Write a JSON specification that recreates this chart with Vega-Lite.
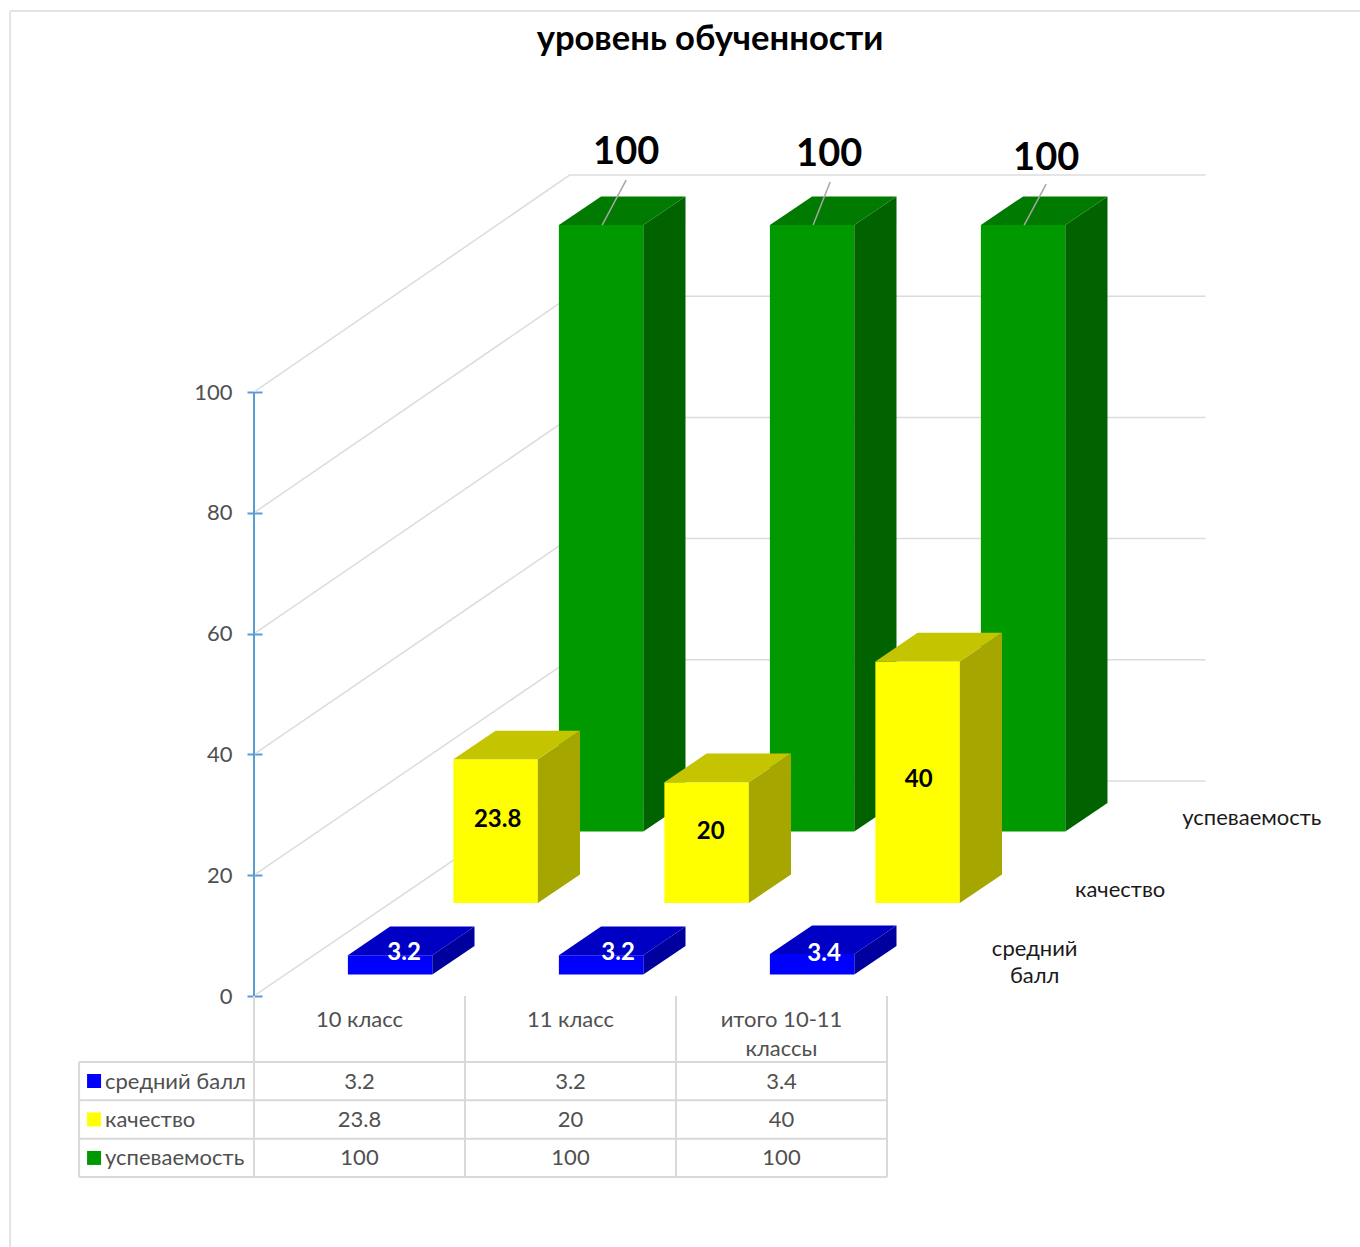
{
"$schema":"https://vega.github.io/schema/vega-lite/v6.json",
"width":1360,"height":1247,"padding":0,"autosize":{"type":"none"},
"background":"white",
"config":{"view":{"stroke":null},"font":"Lato"},
"title":{"text":"уровень обученности","font":"Lato","fontSize":34.6,"fontWeight":"bold","color":"#000000","anchor":"middle","dx":30,"dy":75,"baseline":"middle","offset":0},
"datasets":{
"bars":[
{"cat":"10 класс","series":"средний балл","value":3.2},
{"cat":"11 класс","series":"средний балл","value":3.2},
{"cat":"итого 10-11 классы","series":"средний балл","value":3.4},
{"cat":"10 класс","series":"качество","value":23.8},
{"cat":"11 класс","series":"качество","value":20},
{"cat":"итого 10-11 классы","series":"качество","value":40},
{"cat":"10 класс","series":"успеваемость","value":100},
{"cat":"11 класс","series":"успеваемость","value":100},
{"cat":"итого 10-11 классы","series":"успеваемость","value":100}
],
"levels":[{"level":0},{"level":20},{"level":40},{"level":60},{"level":80},{"level":100}],
"rows":[{"row":0},{"row":1},{"row":2},{"row":3}],
"cols":[{"col":0},{"col":1},{"col":2},{"col":3}]
},
"data":{"name":"bars"},
"transform":[
{"calculate":"indexof(['10 класс','11 класс','итого 10-11 классы'],datum.cat)","as":"i"},
{"calculate":"indexof(['средний балл','качество','успеваемость'],datum.series)","as":"s"},
{"calculate":"datum.i+0.295+0.5*(datum.s+0.3)","as":"x0"},
{"calculate":"datum.x0+0.4","as":"x1"},
{"calculate":"11.84*(datum.s+0.3)","as":"base"},
{"calculate":"datum.base+datum.value*[1,1,1.0041][datum.s]","as":"top"}
],
"layer":[
{"data":{"values":[{"e":"frame"}]},"mark":{"type":"rule","color":"#e3e3e3","strokeWidth":2},
 "encoding":{"x":{"datum":-1.156,"type":"quantitative","scale":{"domain":[-1.20379,5.24171],"nice":false,"zero":false},"axis":null},"y":{"datum":163.08,"type":"quantitative"},"y2":{"datum":-41.556}}},
{"data":{"values":[{"e":"frame"}]},"mark":{"type":"rule","color":"#e3e3e3","strokeWidth":2},
 "encoding":{"x":{"datum":-1.156,"type":"quantitative"},"x2":{"datum":5.2417},"y":{"datum":163.08,"type":"quantitative","scale":{"domain":[-41.556,164.901],"nice":false,"zero":false}}}},
{"data":{"name":"levels"},"transform":[{"calculate":"datum.level*1.0033+35.6","as":"back"}],
 "mark":{"type":"rule","color":"#dcdcdc","strokeWidth":1.5},
 "encoding":{"x":{"datum":0,"type":"quantitative"},"x2":{"datum":1.497},
  "y":{"field":"level","type":"quantitative","axis":{"orient":"left","values":[0,20,40,60,80,100],"offset":-262,"domain":false,"grid":false,"title":null,"tickSize":15,"tickColor":"#5b9bd5","tickWidth":2,"labelColor":"#505050","labelFontSize":22,"labelFont":"Lato","labelPadding":15,"labelAngle":0}},
  "y2":{"field":"back"}}},
{"data":{"name":"levels"},"transform":[{"calculate":"datum.level*1.0033+35.6","as":"back"}],
 "mark":{"type":"rule","color":"#dcdcdc","strokeWidth":1.5},
 "encoding":{"x":{"datum":1.497,"type":"quantitative"},"x2":{"datum":4.51},"y":{"field":"back","type":"quantitative"}}},
{"data":{"values":[{"e":"axis"}]},"mark":{"type":"rule","color":"#5b9bd5","strokeWidth":2},
 "encoding":{"x":{"datum":0,"type":"quantitative"},"y":{"datum":0,"type":"quantitative"},"y2":{"datum":100}}},

{"transform":[{"filter":"datum.s==2"}],"layer":[
 {"mark":{"type":"rect"},"encoding":{"x":{"field":"x0","type":"quantitative"},"x2":{"field":"x1"},"y":{"field":"top","type":"quantitative"},"y2":{"field":"base"},"color":{"field":"series","type":"nominal","legend":null,"scale":{"domain":["средний балл","качество","успеваемость"],"range":["#0000ff","#ffff00","#009900"]}}}},
 {"transform":[{"calculate":"[0,1]","as":"k"},{"flatten":["k"]},{"calculate":"datum.x1+0.2*datum.k","as":"sx"},{"calculate":"datum.top+4.74*datum.k","as":"sy"},{"calculate":"datum.base+4.74*datum.k","as":"sy2"}],
  "mark":{"type":"area","orient":"vertical","color":"#006300"},"encoding":{"x":{"field":"sx","type":"quantitative"},"y":{"field":"sy","type":"quantitative"},"y2":{"field":"sy2"},"detail":{"field":"cat"}}},
 {"transform":[{"calculate":"[0,1]","as":"k"},{"flatten":["k"]},{"calculate":"datum.x0+0.2*datum.k","as":"tx"},{"calculate":"datum.x1+0.2*datum.k","as":"tx2"},{"calculate":"datum.top+4.74*datum.k","as":"ty"}],
  "mark":{"type":"area","orient":"horizontal","color":"#007a00"},"encoding":{"y":{"field":"ty","type":"quantitative"},"x":{"field":"tx","type":"quantitative"},"x2":{"field":"tx2"},"detail":{"field":"cat"}}},
 {"transform":[{"calculate":"datum.x0+0.205","as":"cx"},{"calculate":"datum.cx+[24,17,22][datum.i]/211","as":"lx"},{"calculate":"datum.top+[45,43,41][datum.i]/6.04","as":"ly"}],
  "mark":{"type":"rule","color":"#a6a6a6","strokeWidth":1.5},"encoding":{"x":{"field":"cx","type":"quantitative"},"x2":{"field":"lx"},"y":{"field":"top","type":"quantitative"},"y2":{"field":"ly"}}},
 {"transform":[{"calculate":"datum.x0+0.205+[24,16,22][datum.i]/211","as":"lx"},{"calculate":"datum.top+[72,70,66][datum.i]/6.04","as":"ly"}],
  "mark":{"type":"text","font":"Lato","fontSize":38,"fontWeight":"bold","color":"#000000","baseline":"middle"},"encoding":{"x":{"field":"lx","type":"quantitative"},"y":{"field":"ly","type":"quantitative"},"text":{"field":"value","type":"nominal"}}}
]},
{"transform":[{"filter":"datum.s==1"}],"layer":[
 {"mark":{"type":"rect"},"encoding":{"x":{"field":"x0","type":"quantitative"},"x2":{"field":"x1"},"y":{"field":"top","type":"quantitative"},"y2":{"field":"base"},"color":{"field":"series","type":"nominal","legend":null}}},
 {"transform":[{"calculate":"[0,1]","as":"k"},{"flatten":["k"]},{"calculate":"datum.x1+0.2*datum.k","as":"sx"},{"calculate":"datum.top+4.74*datum.k","as":"sy"},{"calculate":"datum.base+4.74*datum.k","as":"sy2"}],
  "mark":{"type":"area","orient":"vertical","color":"#a6a600"},"encoding":{"x":{"field":"sx","type":"quantitative"},"y":{"field":"sy","type":"quantitative"},"y2":{"field":"sy2"},"detail":{"field":"cat"}}},
 {"transform":[{"calculate":"[0,1]","as":"k"},{"flatten":["k"]},{"calculate":"datum.x0+0.2*datum.k","as":"tx"},{"calculate":"datum.x1+0.2*datum.k","as":"tx2"},{"calculate":"datum.top+4.74*datum.k","as":"ty"}],
  "mark":{"type":"area","orient":"horizontal","color":"#c4c400"},"encoding":{"y":{"field":"ty","type":"quantitative"},"x":{"field":"tx","type":"quantitative"},"x2":{"field":"tx2"},"detail":{"field":"cat"}}},
 {"transform":[{"calculate":"datum.x0+0.205+[1,3,0][datum.i]/211","as":"lx"},{"calculate":"(datum.top+datum.base)/2+[11,11,2][datum.i]/6.04","as":"ly"}],
  "mark":{"type":"text","font":"Lato","fontSize":24,"fontWeight":"bold","color":"#000000","baseline":"middle"},"encoding":{"x":{"field":"lx","type":"quantitative"},"y":{"field":"ly","type":"quantitative"},"text":{"field":"value","type":"nominal"}}}
]},
{"transform":[{"filter":"datum.s==0"}],"layer":[
 {"mark":{"type":"rect"},"encoding":{"x":{"field":"x0","type":"quantitative"},"x2":{"field":"x1"},"y":{"field":"top","type":"quantitative"},"y2":{"field":"base"},"color":{"field":"series","type":"nominal","legend":null}}},
 {"transform":[{"calculate":"[0,1]","as":"k"},{"flatten":["k"]},{"calculate":"datum.x1+0.2*datum.k","as":"sx"},{"calculate":"datum.top+4.74*datum.k","as":"sy"},{"calculate":"datum.base+4.74*datum.k","as":"sy2"}],
  "mark":{"type":"area","orient":"vertical","color":"#00009e"},"encoding":{"x":{"field":"sx","type":"quantitative"},"y":{"field":"sy","type":"quantitative"},"y2":{"field":"sy2"},"detail":{"field":"cat"}}},
 {"transform":[{"calculate":"[0,1]","as":"k"},{"flatten":["k"]},{"calculate":"datum.x0+0.2*datum.k","as":"tx"},{"calculate":"datum.x1+0.2*datum.k","as":"tx2"},{"calculate":"datum.top+4.74*datum.k","as":"ty"}],
  "mark":{"type":"area","orient":"horizontal","color":"#0000c4"},"encoding":{"y":{"field":"ty","type":"quantitative"},"x":{"field":"tx","type":"quantitative"},"x2":{"field":"tx2"},"detail":{"field":"cat"}}},
 {"transform":[{"calculate":"datum.x0+0.2+[14,17,12][datum.i]/211","as":"lx"},{"calculate":"datum.top+[0.4,0.4,0][datum.i]","as":"ly"}],
  "mark":{"type":"text","font":"Lato","fontSize":24,"fontWeight":"bold","color":"#ffffff","baseline":"middle"},"encoding":{"x":{"field":"lx","type":"quantitative"},"y":{"field":"ly","type":"quantitative"},"text":{"field":"value","type":"nominal"}}}
]},

{"transform":[{"filter":"datum.i==0"},{"calculate":"3+0.5*(datum.s+0.5)+[0.45,0.355,0.479][datum.s]","as":"lx"},{"calculate":"11.84*(datum.s+0.5)+[1.82,-0.17,-0.17][datum.s]","as":"ly"}],
 "mark":{"type":"text","font":"Lato","fontSize":22,"color":"#1a1a1a","baseline":"middle","lineBreak":" ","lineHeight":27},
 "encoding":{"x":{"field":"lx","type":"quantitative"},"y":{"field":"ly","type":"quantitative"},"text":{"field":"series","type":"nominal"}}},

{"data":{"name":"rows"},"transform":[{"calculate":"-10.93-6.35*datum.row","as":"ly"}],
 "mark":{"type":"rule","color":"#d9d9d9","strokeWidth":2},"encoding":{"x":{"datum":-0.829,"type":"quantitative"},"x2":{"datum":3},"y":{"field":"ly","type":"quantitative"}}},
{"data":{"name":"cols"},
 "mark":{"type":"rule","color":"#d9d9d9","strokeWidth":2},"encoding":{"x":{"field":"col","type":"quantitative"},"y":{"datum":0,"type":"quantitative"},"y2":{"datum":-29.98}}},
{"data":{"values":[{"e":"left"}]},
 "mark":{"type":"rule","color":"#d9d9d9","strokeWidth":2},"encoding":{"x":{"datum":-0.829,"type":"quantitative"},"y":{"datum":-10.93,"type":"quantitative"},"y2":{"datum":-29.98}}},

{"transform":[{"filter":"datum.s==0"},{"calculate":"datum.i+0.5","as":"lx"},{"calculate":"replace(datum.cat,' классы','|классы')","as":"lab"}],
 "mark":{"type":"text","font":"Lato","fontSize":22,"color":"#505050","baseline":"middle","lineBreak":"|","lineHeight":29},
 "encoding":{"x":{"field":"lx","type":"quantitative"},"y":{"datum":-3.97,"type":"quantitative"},"text":{"field":"lab","type":"nominal"}}},
{"transform":[{"calculate":"datum.i+0.5","as":"lx"},{"calculate":"-14.2-6.33*datum.s","as":"ly"}],
 "mark":{"type":"text","font":"Lato","fontSize":22,"color":"#505050","baseline":"middle"},
 "encoding":{"x":{"field":"lx","type":"quantitative"},"y":{"field":"ly","type":"quantitative"},"text":{"field":"value","type":"nominal"}}},
{"transform":[{"filter":"datum.i==0"},{"calculate":"-14.2-6.33*datum.s","as":"ly"}],
 "mark":{"type":"text","font":"Lato","fontSize":22,"color":"#505050","baseline":"middle","align":"left"},
 "encoding":{"x":{"datum":-0.706,"type":"quantitative"},"y":{"field":"ly","type":"quantitative"},"text":{"field":"series","type":"nominal"}}},
{"transform":[{"filter":"datum.i==0"},{"calculate":"-14.07-6.37*datum.s","as":"ly"}],
 "mark":{"type":"square","size":196,"opacity":1,"filled":true},
 "encoding":{"x":{"datum":-0.758,"type":"quantitative"},"y":{"field":"ly","type":"quantitative"},"color":{"field":"series","type":"nominal","legend":null}}}
],
"resolve":{"scale":{"x":"shared","y":"shared"}}
}
